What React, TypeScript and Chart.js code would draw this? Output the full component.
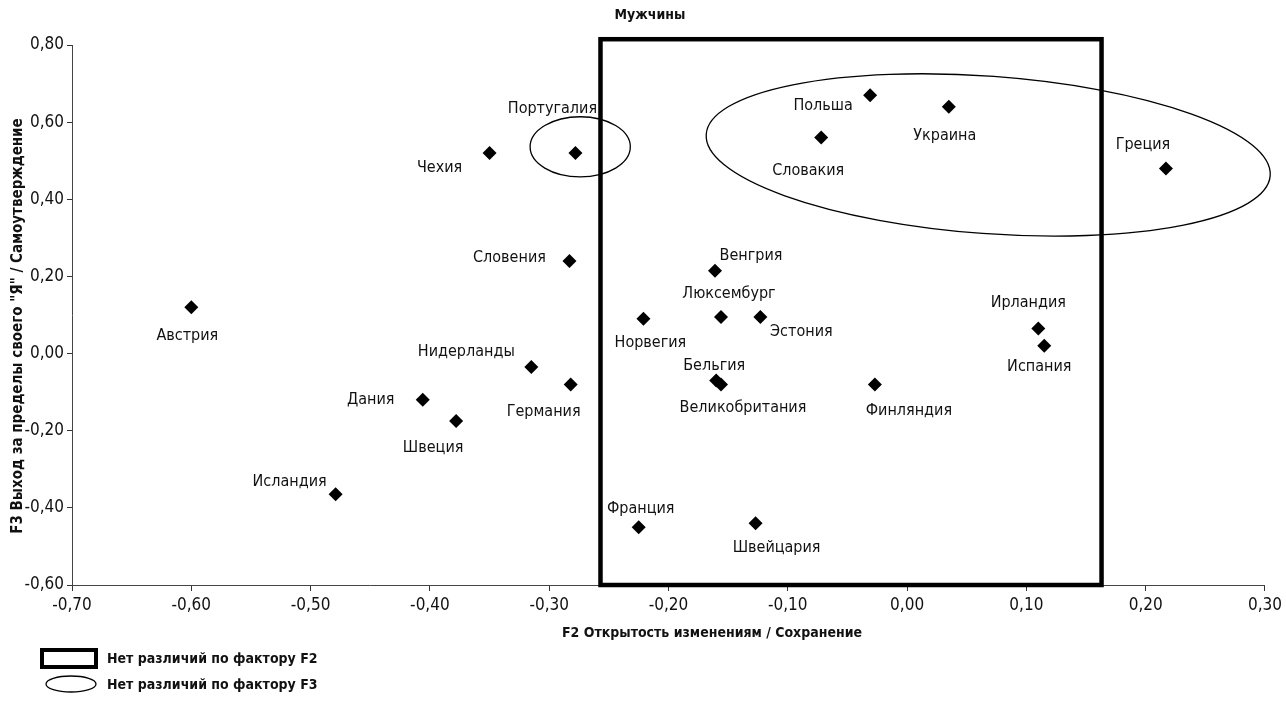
import React, { useEffect, useRef } from 'react';
import { Chart, registerables } from 'chart.js';

Chart.register(...registerables);

// ---------- data ----------
const countries = [
  'Австрия', 'Чехия', 'Португалия', 'Словения', 'Нидерланды', 'Германия',
  'Дания', 'Швеция', 'Исландия', 'Франция', 'Швейцария', 'Норвегия',
  'Венгрия', 'Люксембург', 'Эстония', 'Бельгия', 'Великобритания',
  'Финляндия', 'Ирландия', 'Испания', 'Польша', 'Словакия', 'Украина', 'Греция',
];
// F2 Открытость изменениям / Сохранение
const f2Values = [
  -0.60, -0.35, -0.278, -0.283, -0.315, -0.282,
  -0.406, -0.378, -0.479, -0.225, -0.127, -0.221,
  -0.161, -0.156, -0.123, -0.160, -0.156,
  -0.027, 0.110, 0.115, -0.031, -0.072, 0.035, 0.217,
];
// F3 Выход за пределы своего "Я" / Самоутверждение
const f3Values = [
  0.12, 0.52, 0.52, 0.24, -0.035, -0.08,
  -0.12, -0.175, -0.365, -0.45, -0.44, 0.09,
  0.215, 0.095, 0.095, -0.07, -0.08,
  -0.08, 0.065, 0.02, 0.67, 0.56, 0.64, 0.48,
];

const xTickMin = -0.7;
const xTickMax = 0.3;
const xTickStep = 0.1;
const yTickMin = -0.6;
const yTickMax = 0.8;
const yTickStep = 0.2;

// region with no differences on F2 (rectangle): [left, right], [bottom, top]
const boxF2X = [-0.257, 0.163];
const boxF2Y = [-0.6, 0.815];
// regions with no differences on F3 (ellipses): centre x, centre y, radius x, radius y
const ellipseF3CenterX = [-0.274, 0.068];
const ellipseF3CenterY = [0.536, 0.515];
const ellipseF3RadiusX = [0.042, 0.237];
const ellipseF3RadiusY = [0.078, 0.204];

const chartTitle = 'Мужчины';
const xTitle = 'F2 Открытость изменениям / Сохранение';
const yTitle = 'F3 Выход за пределы своего "Я" / Самоутверждение';
const legendLabels = ['Нет различий по фактору F2', 'Нет различий по фактору F3'];

// ---------- styles ----------
const FONT = "'Liberation Sans Narrow', 'DejaVu Sans Condensed', 'Arial Narrow', sans-serif";
const ellipseRotationDeg = [0, 4.2];
// label offsets in px relative to the marker: [dx, dy]
const labelOffsets: Record<string, [number, number]> = {
  'Австрия': [-4, 29], 'Чехия': [-50, 15], 'Португалия': [-23, -44], 'Словения': [-60, -3],
  'Нидерланды': [-65, -15], 'Германия': [-27, 27], 'Дания': [-52, 0], 'Швеция': [-23, 27],
  'Исландия': [-46, -13], 'Франция': [2, -18], 'Швейцария': [21, 25], 'Норвегия': [7, 24],
  'Венгрия': [36, -15], 'Люксембург': [8, -23], 'Эстония': [41, 15], 'Бельгия': [-2, -15],
  'Великобритания': [22, 23], 'Финляндия': [34, 26], 'Ирландия': [-10, -26], 'Испания': [-5, 21],
  'Польша': [-47, 11], 'Словакия': [-13, 33], 'Украина': [-4, 29], 'Греция': [-23, -24],
};

const fmt = (v: number) => Number(v).toFixed(2).replace('.', ',').replace('-0,00', '0,00');

const overlayPlugin = {
  id: 'overlay',
  beforeDatasetsDraw(chart: any) {
    const { ctx, scales } = chart;
    const xs = scales.x;
    const ys = scales.y;
    ctx.save();
    // F2 rectangle
    const l = xs.getPixelForValue(boxF2X[0]);
    const r = xs.getPixelForValue(boxF2X[1]);
    const b = ys.getPixelForValue(boxF2Y[0]);
    const t = ys.getPixelForValue(boxF2Y[1]);
    ctx.strokeStyle = '#000';
    ctx.lineWidth = 4.5;
    ctx.strokeRect(l, t, r - l, b - t);
    // F3 ellipses
    ctx.lineWidth = 1.3;
    for (let i = 0; i < ellipseF3CenterX.length; i++) {
      const cx = xs.getPixelForValue(ellipseF3CenterX[i]);
      const cy = ys.getPixelForValue(ellipseF3CenterY[i]);
      const rx = Math.abs(xs.getPixelForValue(ellipseF3CenterX[i] + ellipseF3RadiusX[i]) - cx);
      const ry = Math.abs(ys.getPixelForValue(ellipseF3CenterY[i] + ellipseF3RadiusY[i]) - cy);
      ctx.beginPath();
      ctx.ellipse(cx, cy, rx, ry, (ellipseRotationDeg[i] * Math.PI) / 180, 0, Math.PI * 2);
      ctx.stroke();
    }
    ctx.restore();
  },
  afterDatasetsDraw(chart: any) {
    const { ctx, scales } = chart;
    ctx.save();
    ctx.fillStyle = '#111';
    ctx.font = `16px ${FONT}`;
    ctx.textAlign = 'center';
    ctx.textBaseline = 'middle';
    countries.forEach((name, i) => {
      const px = scales.x.getPixelForValue(f2Values[i]);
      const py = scales.y.getPixelForValue(f3Values[i]);
      const [dx, dy] = labelOffsets[name] || [0, 20];
      ctx.fillText(name, px + dx, py + dy);
    });
    ctx.restore();
  },
  afterDraw(chart: any) {
    const { ctx, chartArea } = chart;
    ctx.save();
    ctx.fillStyle = '#111';
    ctx.textBaseline = 'middle';
    ctx.textAlign = 'center';
    // chart title
    ctx.font = `bold 14px ${FONT}`;
    ctx.fillText(chartTitle, 650, 15);
    // axis titles
    ctx.font = `bold 14px ${FONT}`;
    ctx.fillText(xTitle, 712, 633);
    ctx.save();
    ctx.translate(18, 326);
    ctx.rotate(-Math.PI / 2);
    ctx.font = `bold 15px ${FONT}`;
    ctx.fillText(yTitle, 0, 0);
    ctx.restore();
    // legend
    ctx.strokeStyle = '#000';
    ctx.lineWidth = 4;
    ctx.strokeRect(42, 650, 54, 17);
    ctx.lineWidth = 1.3;
    ctx.beginPath();
    ctx.ellipse(71, 684, 25, 8, 0, 0, Math.PI * 2);
    ctx.stroke();
    ctx.font = `bold 14px ${FONT}`;
    ctx.textAlign = 'left';
    ctx.fillText(legendLabels[0], 107, 659);
    ctx.fillText(legendLabels[1], 107, 685);
    ctx.restore();
  },
};

export default function App() {
  const canvasRef = useRef<HTMLCanvasElement | null>(null);

  useEffect(() => {
    if (!canvasRef.current) return;
    const data = countries.map((_, i) => ({ x: f2Values[i], y: f3Values[i] }));
    const chart = new Chart(canvasRef.current, {
      type: 'scatter',
      data: {
        datasets: [
          {
            label: 'Страны',
            data,
            pointStyle: 'rectRot',
            pointRadius: 7,
            pointHoverRadius: 7,
            backgroundColor: '#000',
            borderColor: '#000',
            borderWidth: 0,
          },
        ],
      },
      options: {
        animation: false,
        responsive: true,
        maintainAspectRatio: false,
        layout: { padding: { top: 45, right: 12, bottom: 0, left: 0 }, autoPadding: false },
        plugins: {
          legend: { display: false },
          tooltip: { enabled: false },
          title: { display: false },
        },
        scales: {
          x: {
            type: 'linear',
            min: xTickMin,
            max: xTickMax,
            afterFit: (scale: any) => { scale.height = 116; },
            ticks: {
              stepSize: xTickStep,
              color: '#111',
              font: { family: FONT, size: 17 },
              padding: 4,
              callback: (v: any) => fmt(v),
            },
            grid: { display: true, drawOnChartArea: false, drawTicks: true, tickLength: 6, color: '#333' },
            border: { display: true, color: '#444', width: 1 },
            title: { display: false, text: xTitle },
          },
          y: {
            type: 'linear',
            min: yTickMin,
            max: yTickMax,
            afterFit: (scale: any) => { scale.width = 72; },
            ticks: {
              stepSize: yTickStep,
              color: '#111',
              font: { family: FONT, size: 17 },
              padding: 3,
              callback: (v: any) => fmt(v),
            },
            grid: { display: true, drawOnChartArea: false, drawTicks: true, tickLength: 5, color: '#333' },
            border: { display: true, color: '#444', width: 1 },
            title: { display: false, text: yTitle },
          },
        },
      },
      plugins: [overlayPlugin],
    });
    return () => chart.destroy();
  }, []);

  return (
    <div style={{ position: 'fixed', left: 0, top: 0, width: 1286, height: 701, background: '#fff' }}>
      <canvas ref={canvasRef} />
    </div>
  );
}
